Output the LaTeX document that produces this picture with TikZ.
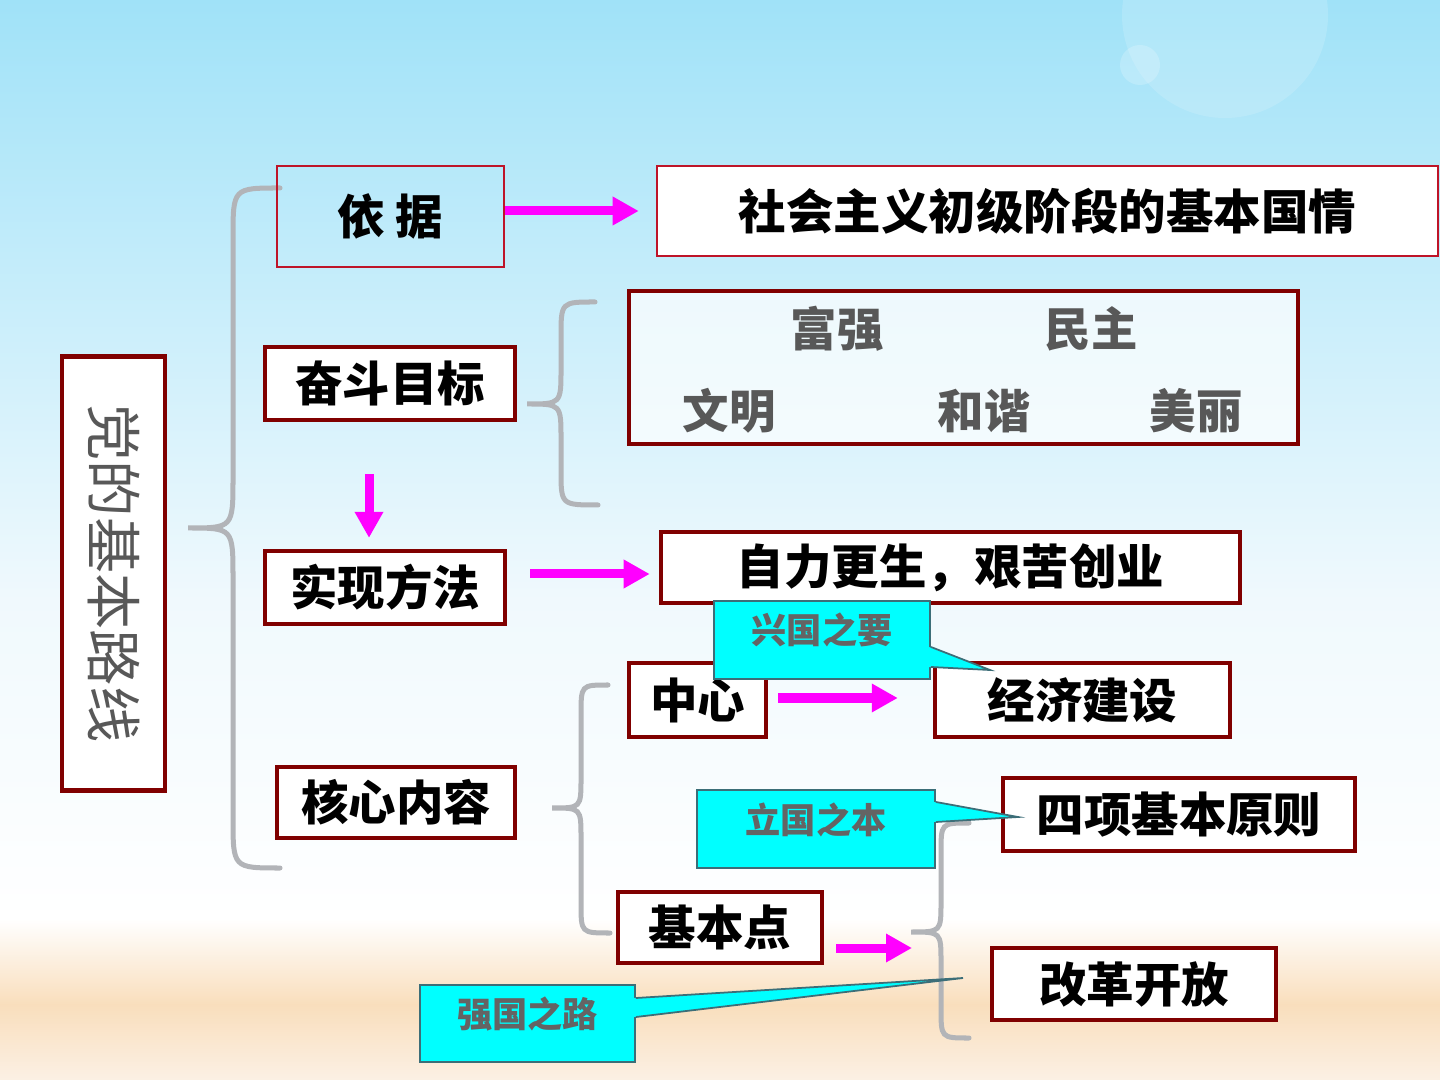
\documentclass[tikz,border=0pt]{standalone}
\usepackage{fontspec}
\usepackage{tikz}
\usetikzlibrary{arrows.meta, positioning, calc}
\newfontfamily\cjk{Noto Sans CJK SC}
\newcommand\bigtxt{\cjk\bfseries\fontsize{13.5}{16}\selectfont}
\newcommand\goaltxt{\cjk\bfseries\fontsize{13.2}{16}\selectfont}
\newcommand\smalltxt{\cjk\bfseries\fontsize{10}{12}\selectfont}
\newcommand\vtxt{\cjk\fontsize{16}{18}\selectfont}
\definecolor{boxred}{RGB}{128,0,0}
\definecolor{thinred}{RGB}{190,20,40}
\definecolor{bracegray}{RGB}{178,180,184}
\definecolor{txtgray}{RGB}{88,88,88}
\definecolor{calltxt}{RGB}{100,100,100}
\definecolor{mymagenta}{RGB}{255,0,255}
\definecolor{calloutcyan}{RGB}{0,255,255}
\definecolor{calloutedge}{RGB}{60,110,120}
\definecolor{skyblue}{RGB}{160,226,248}
\definecolor{skypale}{RGB}{240,249,253}
\definecolor{sand}{RGB}{249,222,188}
\definecolor{sandpale}{RGB}{251,240,228}
\tikzset{
  thinbox/.style={rectangle, draw=thinred, line width=0.6pt, inner sep=0pt, font=\bigtxt},
  mainbox/.style={rectangle, draw=boxred, line width=1.2pt, fill=white, inner sep=0pt, font=\bigtxt},
  callout/.style={rectangle, draw=calloutedge, fill=calloutcyan, line width=0.5pt,
    inner sep=0pt, text=calltxt, font=\smalltxt, text height=0.3cm, text depth=0.22cm},
  pointer/.style={draw=calloutedge, line width=0.5pt},
  goal/.style={text=txtgray, font=\goaltxt, inner sep=0pt},
  fatarrow/.style={draw=mymagenta, line width=0.09cm, -{Triangle[length=0.26cm, width=0.27cm]}},
  brace/.style={draw=bracegray, line width=0.05cm, line cap=round}
}

\begin{document}
\begin{tikzpicture}[x=0.01cm, y=-0.01cm]
  \useasboundingbox (0,0) rectangle (1440,1080);

  % Background: sky and sand
  \fill[top color=skyblue, bottom color=skypale] (0,0) rectangle (1440,600);
  \fill[top color=skypale, bottom color=white] (0,600) rectangle (1440,920);
  \fill[top color=white, bottom color=sand] (0,919) rectangle (1440,1005);
  \fill[top color=sand, bottom color=sandpale] (0,1004) rectangle (1440,1080);
  \fill[white, opacity=0.15] (1225,15) circle (103);
  \fill[white, opacity=0.2] (1140,65) circle (20);

  % Braces
  \foreach \tx/\ty/\sx/\px/\py/\bx/\by/\r in {280/188/233/188/528/280/868/50,
      595/302/561/527/404/598/505/35, 608/685/581/552/808/610/933/30,
      969/823/941/911/932/969/1038/30} {
    \draw[brace] (\tx,\ty) .. controls (\sx,\ty) .. ({\sx},{\ty+\r}) -- ({\sx},{\py-\r})
      .. controls (\sx,\py) .. (\px,\py) .. controls (\sx,\py) .. ({\sx},{\py+\r})
      -- ({\sx},{\by-\r}) .. controls (\sx,\by) .. (\bx,\by);
  }

  % Title box
  \node[mainbox, rotate=-90, minimum width=4.33cm, minimum height=1.03cm, line width=1.4pt,
    font=\vtxt, text=txtgray] (route) at (113.5,573.5) {党的基本路线};

  % Basis
  \node[thinbox, minimum width=2.27cm, minimum height=1.01cm] (yiju) at (390.5,216.5) {依 据};
  \node[thinbox, fill=white, minimum width=7.81cm, minimum height=0.90cm] (qing) at (1047.5,211) {社会主义初级阶段的基本国情};

  % Goals
  \node[mainbox, minimum width=2.50cm, minimum height=0.73cm] (mubiao) at (390,383.5) {奋斗目标};
  \node[mainbox, fill opacity=0.7, minimum width=6.69cm, minimum height=1.53cm] (goals) at (963.5,367.5) {};
  \node[goal] (fuqiang) at (837,329) {富强};
  \node[goal] (minzhu) at (1091,329) {民主};
  \node[goal] (wenming) at (729,411) {文明};
  \node[goal] (hexie) at (984,411) {和谐};
  \node[goal] (meili) at (1196,411) {美丽};

  % Method
  \node[mainbox, minimum width=2.40cm, minimum height=0.73cm] (fangfa) at (385,587.5) {实现方法};
  \node[mainbox, minimum width=5.79cm, minimum height=0.71cm] (zili) at (950.5,567.5) {自力更生，艰苦创业};

  % Core content
  \node[mainbox, minimum width=2.38cm, minimum height=0.71cm] (hexin) at (396,802.5) {核心内容};
  \node[mainbox, minimum width=1.37cm, minimum height=0.74cm] (zhongxin) at (697.5,700) {中心};
  \node[mainbox, minimum width=2.95cm, minimum height=0.74cm] (jingji) at (1082.5,700) {经济建设};
  \node[mainbox, minimum width=2.04cm, minimum height=0.71cm] (jibendian) at (720,927.5) {基本点};
  \node[mainbox, minimum width=3.52cm, minimum height=0.73cm] (sixiang) at (1179,814.5) {四项基本原则};
  \node[mainbox, minimum width=2.84cm, minimum height=0.72cm] (gaige) at (1134,984) {改革开放};

  % Arrows
  \coordinate (diantip) at (912,948);
  \draw[fatarrow] (yiju.east |- qing.west) -- ($(qing.west)+(-17,0)$);
  \draw[fatarrow] ($(mubiao.south)+(-21,52)$) -- ($(fangfa.north)+(-16,-11)$);
  \draw[fatarrow] ($(fangfa.east)+(23,-13.5)$) -- ($(zili.west)+(-9,6.5)$);
  \draw[fatarrow] ($(zhongxin.east)+(10,-2)$) -- ($(jingji.west)+(-35,-2)$);
  \draw[fatarrow] ($(jibendian.east)+(12,20.5)$) -- (diantip);

  % Callouts
  \node[callout, minimum width=2.16cm, minimum height=0.78cm] (xingguo) at (822,640) {兴国之要};
  \coordinate (xgtip) at (990,670);
  \fill[calloutcyan] ($(xingguo.east)+(-2,7)$) -- (xgtip) -- ($(xingguo.east)+(-2,27)$) -- cycle;
  \draw[pointer] ($(xingguo.east)+(0,7)$) -- (xgtip) -- ($(xingguo.east)+(0,27)$);

  \node[callout, minimum width=2.38cm, minimum height=0.78cm] (liguo) at (816,829) {立国之本};
  \coordinate (lgtip) at (1018,817);
  \fill[calloutcyan] ($(liguo.east)+(-2,-27)$) -- (lgtip) -- ($(liguo.east)+(-2,-7)$) -- cycle;
  \draw[pointer] ($(liguo.east)+(0,-27)$) -- (lgtip) -- ($(liguo.east)+(0,-7)$);

  \node[callout, minimum width=2.15cm, minimum height=0.77cm] (qiangguo) at (527.5,1023.5) {强国之路};
  \coordinate (qgtip) at (963,978);
  \fill[calloutcyan] ($(qiangguo.east)+(-2,-25.5)$) -- (qgtip) -- ($(qiangguo.east)+(-2,-6.5)$) -- cycle;
  \draw[pointer] ($(qiangguo.east)+(0,-25.5)$) -- (qgtip) -- ($(qiangguo.east)+(0,-6.5)$);
\end{tikzpicture}
\end{document}
